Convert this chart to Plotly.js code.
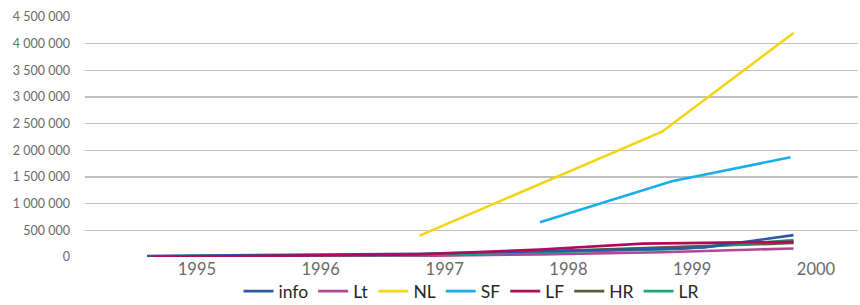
<!DOCTYPE html>
<html>
<head>
<meta charset="utf-8">
<script src="https://cdn.plot.ly/plotly-3.0.1.min.js"></script>
<style>html,body{margin:0;padding:0;background:#fff;}#chart{width:860px;height:305px;}</style>
</head>
<body>
<div id="chart"></div>
<script>
// Series names (legend order)
const seriesNames = ['info', 'Lt', 'NL', 'SF', 'LF', 'HR', 'LR'];

// Dates and values
const infoDates = ['1994-08-07', '1996-10-19', '1997-10-09', '1998-10-04', '1999-02-06', '1999-10-27'];
const infoValues = [20000, 60000, 110000, 150000, 180000, 410000];

const ltDates = ['1994-08-07', '1996-10-19', '1997-10-09', '1998-10-04', '1999-10-27'];
const ltValues = [5000, 20000, 50000, 90000, 160000];

const nlDates = ['1996-10-19', '1998-10-04', '1999-10-27'];
const nlValues = [400000, 2350000, 4200000];

const sfDates = ['1997-10-09', '1998-11-02', '1999-10-18'];
const sfValues = [650000, 1420000, 1870000];

const lfDates = ['1994-08-24', '1996-10-19', '1997-10-09', '1998-08-08', '1999-10-27'];
const lfValues = [0, 50000, 140000, 250000, 285000];

const hrDates = ['1994-08-07', '1996-10-19', '1997-10-09', '1998-10-04', '1999-10-27'];
const hrValues = [10000, 40000, 100000, 180000, 262000];

const lrDates = ['1994-08-07', '1996-10-19', '1997-10-09', '1998-11-24', '1999-10-27'];
const lrValues = [15000, 40000, 90000, 150000, 320000];

const yTickVals = [0, 500000, 1000000, 1500000, 2000000, 2500000, 3000000, 3500000, 4000000, 4500000];
const yTickText = ['0', '500 000', '1 000 000', '1 500 000', '2 000 000', '2 500 000', '3 000 000', '3 500 000', '4 000 000', '4 500 000'];
const xTickVals = ['1995-01-01', '1996-01-01', '1997-01-01', '1998-01-01', '1999-01-01', '2000-01-01'];
const xTickText = ['1995', '1996', '1997', '1998', '1999', '2000'];

const colors = {info:'#2f56a3', Lt:'#b0479a', NL:'#f5d415', SF:'#1aaee8', LF:'#b00a5c', HR:'#5b5b36', LR:'#17a872'};

function tr(name, x, y, rank) {
  return {type:'scatter', mode:'lines', name:name, x:x, y:y, legendrank:rank,
          line:{color:colors[name], width:2.6}, hoverinfo:'skip'};
}

// drawing order (later = on top); legendrank fixes legend order
const traces = [
  tr('HR', hrDates, hrValues, 6),
  tr('Lt', ltDates, ltValues, 2),
  tr('LR', lrDates, lrValues, 7),
  tr('info', infoDates, infoValues, 1),
  tr('LF', lfDates, lfValues, 5),
  tr('NL', nlDates, nlValues, 3),
  tr('SF', sfDates, sfValues, 4)
];

const layout = {
  width:860, height:305,
  margin:{l:85, r:2, t:17, b:48},
  paper_bgcolor:'#fff', plot_bgcolor:'#fff',
  font:{family:'Lato, "Open Sans", sans-serif', color:'#595959'},
  showlegend:true,
  legend:{orientation:'h', x:0.5, xanchor:'center', xref:'paper',
          yref:'container', y:0.045, yanchor:'middle', bgcolor:'rgba(0,0,0,0)',
          font:{size:17.5, color:'#262626'}, itemwidth:30, traceorder:'normal'},
  xaxis:{type:'date', range:['1994-02-05','2000-05-04'], tickvals:xTickVals, ticktext:xTickText,
         showgrid:false, zeroline:false, showline:false, ticks:'', automargin:false,
         tickfont:{size:16.5, color:'#6a6a6a'}, fixedrange:true},
  yaxis:{range:[0, 4500000], tickvals:yTickVals, ticktext:yTickText, automargin:false,
         showgrid:true, gridcolor:'#c0c0c0', gridwidth:1.5, zeroline:false, showline:false,
         ticks:'', ticklabelstandoff:14, tickfont:{size:12.5, color:'#6a6a6a'}, fixedrange:true}
};

Plotly.newPlot('chart', traces, layout, {displayModeBar:false, staticPlot:true});
</script>
</body>
</html>
